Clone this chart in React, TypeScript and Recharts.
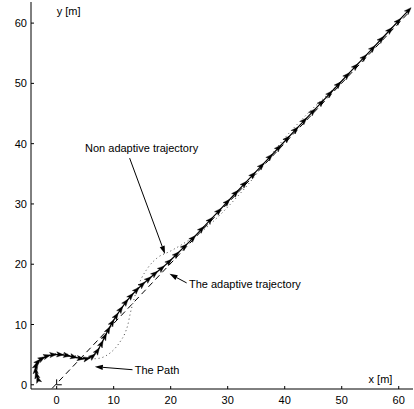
import React from 'react';
import { LineChart, Line, XAxis, YAxis, ReferenceLine, ReferenceDot } from 'recharts';

// Adaptive trajectory (solid with arrows)
const trajX = [-3.3, -3.55, -3.7, -3.6, -3.2, -2.5, -1.6, -0.5, 0.7, 1.9, 3.1, 4.3, 5.4, 6.4, 7.2, 7.9, 8.5, 9.1, 9.8, 10.5, 11.3, 12.2, 13.1, 14.1, 15.1, 16.2, 17.3, 18.5, 19.8, 21.1, 22.5, 24.0, 25.5, 27.0, 28.5, 30.0, 31.5, 33.0, 34.5, 36.0, 37.5, 39.0, 40.5, 42.0, 43.5, 45.0, 46.5, 48.0, 49.5, 51.0, 52.5, 54.0, 55.5, 57.0, 58.5, 60.0, 61.8];
const trajY = [1.0, 1.7, 2.5, 3.3, 3.9, 4.4, 4.8, 5.0, 5.0, 4.85, 4.6, 4.35, 4.35, 4.8, 5.7, 6.9, 8.1, 9.2, 10.4, 11.5, 12.6, 13.8, 14.8, 15.8, 16.7, 17.6, 18.5, 19.4, 20.5, 21.7, 23.0, 24.4, 25.9, 27.4, 28.9, 30.4, 31.9, 33.4, 34.9, 36.4, 37.9, 39.4, 40.9, 42.4, 43.9, 45.4, 46.9, 48.4, 49.9, 51.4, 52.9, 54.4, 55.9, 57.4, 58.9, 60.4, 62.2];

// Non adaptive trajectory (dotted)
const nonAdX = [-3.3, -3.6, -3.0, -1.5, 0, 2, 4, 6, 7.5, 8.8, 10, 11.1, 12, 12.5, 12.9, 13.4, 14, 14.8, 16, 17.7, 19.8, 21.5, 23.2, 25, 27, 29, 31, 33, 35, 37, 39, 41, 43, 45, 47, 49, 51, 54, 57, 60, 61.8];
const nonAdY = [1.0, 2.5, 3.9, 4.8, 5.15, 5.05, 4.65, 4.3, 4.4, 4.9, 5.8, 7.1, 8.6, 10, 11.8, 13.6, 15.6, 17.5, 19.4, 21.1, 22.1, 23.0, 24.0, 25.1, 26.7, 28.5, 30.5, 32.6, 34.9, 37.4, 39.8, 42.0, 44.0, 45.9, 47.7, 49.5, 51.4, 54.4, 57.4, 60.4, 62.2];

// The path (dashed)
const pathX = [-0.8, 62];
const pathY = [-0.6, 62];
const pathMarkX = [0, 0, 0.9];
const pathMarkY = [0.9, 0, 0];

const xTicks = [0, 10, 20, 30, 40, 50, 60];
const yTicks = [0, 10, 20, 30, 40, 50, 60];

const zip = (xs: number[], ys: number[]) => xs.map((x, i) => ({ x, y: ys[i] }));
const trajData = zip(trajX, trajY);
const nonAdData = zip(nonAdX, nonAdY);
const pathData = zip(pathX, pathY);
const pathMarkData = zip(pathMarkX, pathMarkY);

const FONT = '"Liberation Sans", Arial, Helvetica, sans-serif';

const ArrowDot = (props: any) => {
  const { cx, cy, index, points } = props;
  if (cx == null || cy == null) return <g key={`a-${index}`} />;
  let ang = 0;
  if (points && points.length > 1) {
    const n = points.length;
    const a = points[Math.max(0, index - 1)];
    const b = points[Math.min(n - 1, index + 1)];
    ang = (Math.atan2(b.y - a.y, b.x - a.x) * 180) / Math.PI;
  } else {
    ang = -45;
  }
  return (
    <path
      key={`a-${index}`}
      transform={`translate(${cx},${cy}) rotate(${ang})`}
      d="M3,0 L-4,-2.6 L-2.4,0 L-4,2.6 Z"
      fill="#000"
      stroke="#000"
      strokeWidth={0.4}
    />
  );
};

const XTick = (props: any) => {
  const { x, y, payload } = props;
  return (
    <g>
      <line x1={x} y1={y} x2={x} y2={y - 3} stroke="#000" strokeWidth={1} />
      <text x={x} y={y + 15} textAnchor="middle" fontSize={11} fontFamily={FONT} fill="#000">
        {payload.value}
      </text>
    </g>
  );
};

const YTick = (props: any) => {
  const { x, y, payload } = props;
  return (
    <g>
      <line x1={x} y1={y} x2={x + 3} y2={y} stroke="#000" strokeWidth={1} />
      <text x={x - 4} y={y + 4} textAnchor="end" fontSize={11} fontFamily={FONT} fill="#000">
        {payload.value}
      </text>
    </g>
  );
};

const ArrowShape = (props: any) => {
  const { x1, y1, x2, y2 } = props;
  const ang = Math.atan2(y2 - y1, x2 - x1);
  const L = 8;
  const W = 2.6;
  const bx = x2 - L * Math.cos(ang);
  const by = y2 - L * Math.sin(ang);
  const px = -Math.sin(ang) * W;
  const py = Math.cos(ang) * W;
  return (
    <g>
      <line x1={x1} y1={y1} x2={bx} y2={by} stroke="#000" strokeWidth={1} />
      <path d={`M${x2},${y2} L${bx + px},${by + py} L${bx - px},${by - py} Z`} fill="#000" />
    </g>
  );
};

const makeText = (value: string, anchor: 'start' | 'middle' | 'end') => (props: any) => {
  const { cx, cy } = props;
  return (
    <text x={cx} y={cy} dy={4} textAnchor={anchor} fontSize={11} fontFamily={FONT} fill="#000">
      {value}
    </text>
  );
};

export default function App() {
  return (
    <div style={{ position: 'absolute', left: 0, top: 0, width: 414, height: 409, background: '#fff' }}>
      <LineChart width={414} height={409} margin={{ top: 2, right: 1, left: 0, bottom: 0 }}>
        <XAxis
          type="number"
          dataKey="x"
          domain={[-4.5, 62.5]}
          ticks={xTicks}
          interval={0}
          allowDataOverflow
          height={20}
          tickSize={0}
          tickMargin={0}
          tickLine={false}
          axisLine={{ stroke: '#000', strokeWidth: 1 }}
          tick={XTick}
        />
        <YAxis
          type="number"
          dataKey="y"
          domain={[-0.7, 63.5]}
          ticks={yTicks}
          interval={0}
          allowDataOverflow
          width={31}
          tickSize={0}
          tickMargin={0}
          tickLine={false}
          axisLine={{ stroke: '#000', strokeWidth: 1 }}
          tick={YTick}
        />
        <Line data={pathData} dataKey="y" type="linear" stroke="#000" strokeWidth={1} strokeDasharray="6 4" dot={false} activeDot={false} isAnimationActive={false} />
        <Line data={pathMarkData} dataKey="y" type="linear" stroke="#000" strokeWidth={1} dot={false} activeDot={false} isAnimationActive={false} />
        <Line data={nonAdData} dataKey="y" type="monotone" stroke="#444" strokeWidth={1} strokeDasharray="1 3" dot={false} activeDot={false} isAnimationActive={false} />
        <Line data={trajData} dataKey="y" type="linear" stroke="#000" strokeWidth={1.2} dot={ArrowDot} activeDot={false} isAnimationActive={false} />

        <ReferenceLine segment={[{ x: 12.8, y: 37.6 }, { x: 19.0, y: 21.7 }]} shape={ArrowShape} />
        <ReferenceLine segment={[{ x: 22.8, y: 16.9 }, { x: 19.8, y: 18.4 }]} shape={ArrowShape} />
        <ReferenceLine segment={[{ x: 13.3, y: 2.5 }, { x: 6.7, y: 3.0 }]} shape={ArrowShape} />

        <ReferenceDot x={14.9} y={39.3} r={0} shape={makeText('Non adaptive trajectory', 'middle')} />
        <ReferenceDot x={23.2} y={16.75} r={0} shape={makeText('The adaptive trajectory', 'start')} />
        <ReferenceDot x={13.7} y={2.5} r={0} shape={makeText('The Path', 'start')} />
        <ReferenceDot x={0.0} y={62.0} r={0} shape={makeText('y [m]', 'start')} />
        <ReferenceDot x={54.7} y={1.0} r={0} shape={makeText('x [m]', 'start')} />
      </LineChart>
    </div>
  );
}
